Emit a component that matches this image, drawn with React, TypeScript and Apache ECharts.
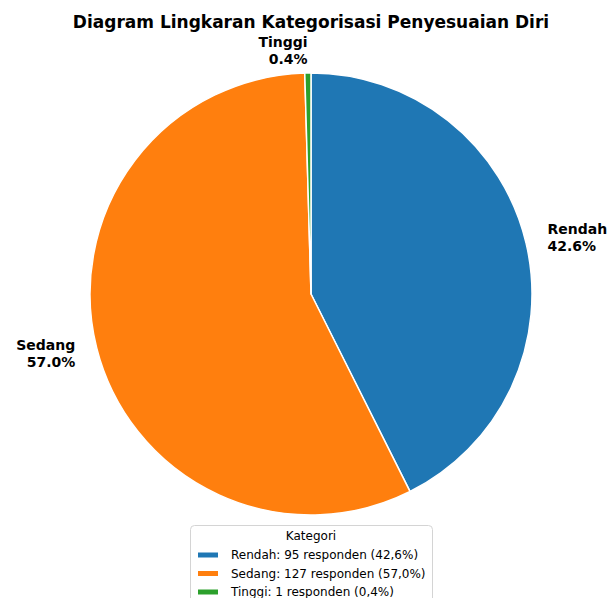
import React, { useEffect, useRef } from "react";
import * as echarts from "echarts";

const TITLE = "Diagram Lingkaran Kategorisasi Penyesuaian Diri";
const categories = ["Rendah", "Sedang", "Tinggi"];
const counts = [95, 127, 1];
const colors = ["#1f77b4", "#ff7f0e", "#2ca02c"];
const LEGEND_TITLE = "Kategori";

export default function App() {
  const ref = useRef<HTMLDivElement>(null);
  useEffect(() => {
    if (!ref.current) return;
    const chart = echarts.init(ref.current, null, { renderer: "svg" });
    const total = counts.reduce((a, b) => a + b, 0);
    const pct = (v: number) => ((v / total) * 100).toFixed(1);
    const cx = 311;
    const cy = 294;
    const R = 221;
    const font = "DejaVu Sans";

    chart.setOption({
      animation: false,
      backgroundColor: "#ffffff",
      graphic: [
        {
          type: "text",
          x: 311,
          y: 22,
          style: {
            text: TITLE,
            fontFamily: font,
            fontSize: 17,
            fontWeight: "bold",
            fill: "#000",
            align: "center",
            verticalAlign: "middle",
          },
          z: 3,
        },
        {
          type: "rect",
          left: 190,
          top: 525,
          shape: { width: 242, height: 100, r: 4 },
          style: { fill: "#ffffff", stroke: "#d4d4d4", lineWidth: 1 },
          z: 0,
        },
        {
          type: "text",
          x: 311,
          y: 536,
          style: {
            text: LEGEND_TITLE,
            fontFamily: font,
            fontSize: 12,
            fill: "#000",
            align: "center",
            verticalAlign: "middle",
          },
          z: 1,
        },
      ],
      legend: {
        orient: "vertical",
        left: 196,
        top: 548,
        height: 80,
        padding: 0,
        itemWidth: 22,
        itemHeight: 7,
        itemGap: 4.5,
        icon: "rect",
        data: categories,
        textStyle: { fontFamily: font, fontSize: 12, color: "#000", lineHeight: 14, padding: [0, 0, 0, 7] },
        formatter: (name: string) => {
          const i = categories.indexOf(name);
          return `${name}: ${counts[i]} responden (${pct(counts[i]).replace(".", ",")}%)`;
        },
        z: 2,
      },
      series: [
        {
          type: "pie",
          center: [cx, cy],
          radius: [0, R],
          startAngle: 90,
          clockwise: true,
          avoidLabelOverlap: false,
          itemStyle: { borderColor: "#ffffff", borderWidth: 1.5 },
          label: {
            show: true,
            position: "outside",
            fontFamily: font,
            fontSize: 14,
            fontWeight: "bold",
            color: "#000",
            lineHeight: 17,
            formatter: (p: any) => `${p.name}\n${pct(p.value)}%`,
          },
          labelLine: { show: false },
          labelLayout: (p: any) => {
            const i = p.dataIndex;
            let cum = 0;
            for (let k = 0; k < i; k++) cum += counts[k];
            const mid = (cum + counts[i] / 2) / total;
            const th = mid * Math.PI * 2;
            const x = cx + 1.1 * R * Math.sin(th);
            const y = cy - 1.1 * R * Math.cos(th);
            return { x, y, align: x > cx ? "left" : "right", verticalAlign: "middle" };
          },
          emphasis: { disabled: true },
          data: categories.map((c, i) => ({ name: c, value: counts[i], itemStyle: { color: colors[i] } })),
        },
      ],
    });
    return () => chart.dispose();
  }, []);
  return <div ref={ref} style={{ position: "fixed", left: 0, top: 0, width: 611, height: 598 }} />;
}
